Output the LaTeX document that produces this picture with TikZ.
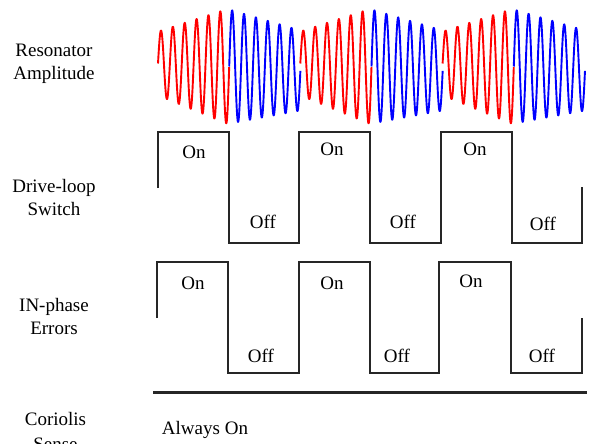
\documentclass[tikz,border=0pt]{standalone}
\usepackage{fontspec}
\setmainfont{Liberation Serif}
\begin{document}
\begin{tikzpicture}[x=1pt,y=-1pt,
  lab/.style={font=\fontsize{19}{22}\selectfont, inner sep=0pt, anchor=base},
  sq/.style={line width=2pt, line join=miter, black!85},
  wavered/.style={line width=1.9pt, red, line join=round},
  waveblue/.style={line width=1.9pt, blue, line join=round}]
\useasboundingbox (0,0) rectangle (590,444);
\clip (0,0) rectangle (590,444);
% resonator amplitude
\foreach \k in {0,1,2}{
  \pgfmathsetmacro{\xa}{158+142.3*\k}
  \pgfmathsetmacro{\xb}{158+71.2+142.3*\k}
  \draw[wavered] plot[domain=0:1, samples=360, variable=\t]
    ({\xa+71.2*\t}, {63.5+3*\t-(32+26*\t)*sin(6*360*\t)});
  \draw[waveblue] plot[domain=0:1, samples=360, variable=\t]
    ({\xb+71.2*\t}, {66.5+4*\t-(57-17*\t)*sin(6*360*\t)});
}
% drive-loop switch
\draw[sq] (158,188) -- (158,132) -- (229,132) -- (229,243) -- (299,243) -- (299,132)
  -- (370,132) -- (370,243) -- (441,243) -- (441,132) -- (512,132) -- (512,243)
  -- (582,243) -- (582,187);
% in-phase errors
\draw[sq] (157,318) -- (157,262) -- (228,262) -- (228,373) -- (299,373) -- (299,262)
  -- (370,262) -- (370,373) -- (439,373) -- (439,262) -- (511,262) -- (511,373)
  -- (582,373) -- (582,318);
% coriolis line
\draw[line width=2.7pt, black!85] (153,392.5) -- (587,392.5);
% left labels
\node[lab] (l1a) at (54,56.5) {Resonator};
\node[lab] (l1b) at (54,79.5) {Amplitude};
\node[lab] (l2a) at (54,192.5) {Drive-loop};
\node[lab] (l2b) at (54,215) {Switch};
\node[lab] (l3a) at (54,311.5) {IN-phase};
\node[lab] (l3b) at (54,334) {Errors};
\node[lab] (l4a) at (55.5,425) {Coriolis};
\node[lab] (l4b) at (55.5,450) {Sense};
% on/off labels
\node[lab] (d1) at (194,158) {On};
\node[lab] (d2) at (332,156) {On};
\node[lab] (d3) at (475,156) {On};
\node[lab] (d4) at (263,229) {Off};
\node[lab] (d5) at (403,229) {Off};
\node[lab] (d6) at (543,230) {Off};
\node[lab] (e1) at (193,289) {On};
\node[lab] (e2) at (332,289) {On};
\node[lab] (e3) at (471,287) {On};
\node[lab] (e4) at (261,362) {Off};
\node[lab] (e5) at (397,362) {Off};
\node[lab] (e6) at (542,362) {Off};
\node[lab] (ao) at (205,434) {Always On};
\end{tikzpicture}
\end{document}
